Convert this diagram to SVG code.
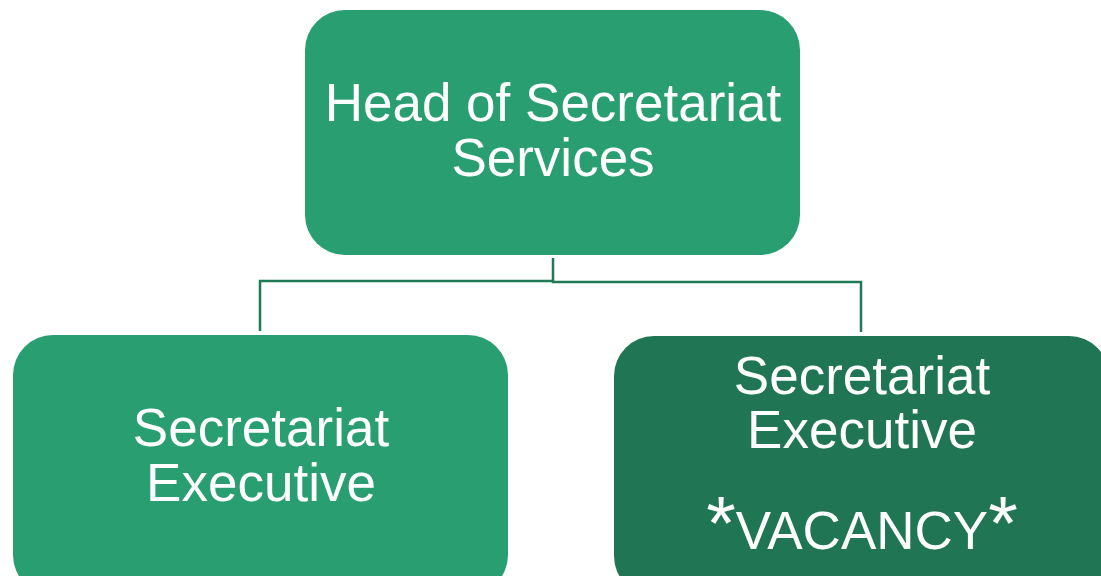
<svg xmlns="http://www.w3.org/2000/svg" width="1101" height="576" viewBox="0 0 1101 576">
<style>
.box{fill:#299E70}
.dark{fill:#1F7554}
.t{font-family:"Liberation Sans",Arial,sans-serif;font-size:53px;fill:#FFFFFF;text-anchor:middle}
.conn{fill:none;stroke:#1F7A55;stroke-width:2.5}
</style>
<rect width="1101" height="576" fill="#FFFFFF"/>
<g id="connectors">
<polyline class="conn" points="553,258 553,281 260,281 260,331"/>
<polyline class="conn" points="553,281 553,282 861,282 861,332"/>
</g>
<g id="head">
<rect class="box" x="305" y="10" width="495" height="245" rx="40" ry="40"/>
<text class="t" x="553" y="121">Head of Secretariat</text>
<text class="t" x="553" y="176">Services</text>
</g>
<g id="exec1">
<rect class="box" x="13" y="335" width="495" height="260" rx="40" ry="40"/>
<text class="t" x="261" y="446">Secretariat</text>
<text class="t" x="261" y="501">Executive</text>
</g>
<g id="exec2">
<rect class="dark" x="614" y="336" width="495" height="260" rx="40" ry="40"/>
<text class="t" x="862" y="394">Secretariat</text>
<text class="t" x="862" y="448">Executive</text>
<text class="t" x="862" y="549"><tspan font-size="76">*</tspan>VACANCY<tspan font-size="76">*</tspan></text>
</g>
</svg>
